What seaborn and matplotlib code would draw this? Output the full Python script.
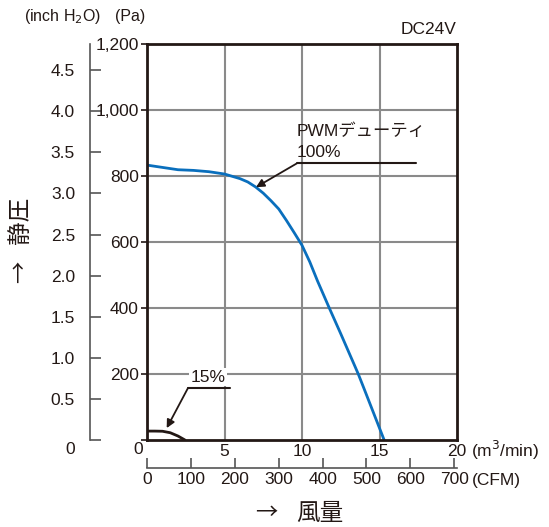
import matplotlib
matplotlib.use("Agg")
import matplotlib.pyplot as plt
import matplotlib.transforms as mtransforms
import seaborn as sns
import pandas as pd

# ---- data ----
flow_100 = [0, 1, 2, 3, 4, 5, 6, 6.5, 7, 7.5, 8, 8.5, 9, 9.5, 10, 10.5, 11, 11.76,
            12.5, 13, 13.4, 13.63, 14, 14.5, 15, 15.3]
pa_100 = [833, 826, 819, 817, 813, 806, 792, 782, 767, 748, 725, 700, 665, 628, 590,
          540, 482, 400, 322, 268, 225, 200, 156, 96, 36, 0]
flow_15 = [0, 0.5, 1.0, 1.5, 2.0, 2.45]
pa_15 = [27, 27, 26.5, 22, 12, 0]

pa_ticks = [0, 200, 400, 600, 800, 1000, 1200]
pa_labels = ["", "200", "400", "600", "800", "1,000", "1,200"]
inch_ticks = [0, 0.5, 1.0, 1.5, 2.0, 2.5, 3.0, 3.5, 4.0, 4.5]
flow_ticks = [0, 5, 10, 15, 20]
cfm_ticks = [0, 100, 200, 300, 400, 500, 600, 700]

PA_PER_INCH = 249.089
M3MIN_PER_CFM = 0.0283168

BLUE = "#0a6fbd"
INK = "#231815"
GRID = "#8a8a8a"

sns.set_theme(style="white")
plt.rcParams["font.family"] = ["Liberation Sans", "Noto Sans CJK JP", "DejaVu Sans"]
FS = 12.5
CJK = ["Noto Sans CJK JP", "DejaVu Sans"]

fig = plt.figure(figsize=(5.49, 5.27), dpi=100)
ax = fig.add_axes([147 / 549, 87 / 527, 310 / 549, 396 / 527])

df100 = pd.DataFrame({"flow": flow_100, "pa": pa_100})
df15 = pd.DataFrame({"flow": flow_15, "pa": pa_15})
sns.lineplot(data=df100, x="flow", y="pa", ax=ax, color=BLUE, linewidth=2, sort=False)
sns.lineplot(data=df15, x="flow", y="pa", ax=ax, color=INK, linewidth=2, sort=False)

ax.set_xlim(0, 20)
ax.set_ylim(0, 1200)
ax.set_xlabel("")
ax.set_ylabel("")

# grid
for v in flow_ticks[1:-1]:
    ax.axvline(v, color=GRID, lw=1.5, zorder=0)
for v in pa_ticks[1:-1]:
    ax.axhline(v, color=GRID, lw=1.5, zorder=0)

for s in ax.spines.values():
    s.set_color(INK)
    s.set_linewidth(2)

ax.set_yticks(pa_ticks)
ax.set_yticklabels(pa_labels)
ax.tick_params(axis="y", direction="out", length=4, width=1.2, color=INK,
               labelsize=FS, labelcolor=INK, pad=2, left=True)
ax.set_xticks(flow_ticks)
ax.set_xticklabels([""] + [str(v) for v in flow_ticks[1:]])
ax.tick_params(axis="x", length=0, labelsize=FS, labelcolor=INK, pad=3)

# "0" shared label at origin
off = mtransforms.offset_copy(ax.transData, fig=fig, x=-9, y=-10, units="dots")
ax.text(0, 0, "0", transform=off, ha="center", va="center", fontsize=FS, color=INK)

# inch H2O axis
sec_y = ax.secondary_yaxis(-0.185, functions=(lambda p: p / PA_PER_INCH,
                                               lambda i: i * PA_PER_INCH))
sec_y.set_yticks(inch_ticks)
sec_y.set_yticklabels([""] + [f"{v:.1f}" for v in inch_ticks[1:]])
sec_y.tick_params(direction="in", length=8, width=1.2, color="#555555",
                  labelsize=FS, labelcolor=INK, pad=10.5)
sec_y.spines["left"].set_color("#555555")
sec_y.spines["left"].set_linewidth(1.2)
off2 = mtransforms.offset_copy(ax.transAxes, fig=fig, x=0, y=-10, units="dots")
ax.text(-0.247, 0, "0", transform=off2, ha="center", va="center", fontsize=FS, color=INK)

# CFM axis
sec_x = ax.secondary_xaxis(-0.0707, functions=(lambda f: f / M3MIN_PER_CFM,
                                                lambda c: c * M3MIN_PER_CFM))
sec_x.set_xticks(cfm_ticks)
sec_x.set_xticklabels([str(v) for v in cfm_ticks])
sec_x.tick_params(direction="in", length=7, width=1.2, color="#555555",
                  labelsize=FS, labelcolor=INK, pad=3)
sec_x.spines["bottom"].set_color("#555555")
sec_x.spines["bottom"].set_linewidth(1.2)

# unit texts
fig.text(24 / 549, 1 - 17 / 527, "(inch H$_2$O)", ha="left", va="center", fontsize=11.5, color=INK)
fig.text(115 / 549, 1 - 17 / 527, "(Pa)", ha="left", va="center", fontsize=11.5, color=INK)
fig.text(471 / 549, 1 - 450 / 527, "(m$^3$/min)", ha="left", va="center", fontsize=FS, color=INK)
fig.text(472 / 549, 1 - 481 / 527, "(CFM)", ha="left", va="center", fontsize=FS, color=INK)
fig.text(456 / 549, 1 - 30 / 527, "DC24V", ha="right", va="center", fontsize=FS, color=INK)

# axis titles
fig.text(266 / 549, 1 - 513 / 527, "→", ha="center", va="center", fontsize=16,
         color=INK, family=CJK)
fig.text(320 / 549, 1 - 513 / 527, "風量", ha="center", va="center", fontsize=17,
         color=INK, family=CJK)
fig.text(20 / 549, 1 - 272 / 527, "→", ha="center", va="center", fontsize=16,
         color=INK, rotation=90, family=CJK)
fig.text(20 / 549, 1 - 220 / 527, "静圧", ha="center", va="center", fontsize=17,
         color=INK, rotation=90, family=CJK)

# annotations
arrow_kw = dict(arrowstyle="-|>", color=INK, lw=1.3, mutation_scale=12,
                shrinkA=0, shrinkB=0)
lab100_start, lab100_end, lab100_y = 9.66, 17.35, 838
tip100 = (7.03, 766)
ax.plot([lab100_start, lab100_end], [lab100_y, lab100_y], color=INK, lw=1.5)
ax.annotate("", xy=tip100, xytext=(lab100_start, lab100_y), arrowprops=arrow_kw)
ax.text(lab100_start, 935, "PWMデューティ", ha="left", va="center", fontsize=FS, color=INK)
ax.text(lab100_start, 870, "100%", ha="left", va="center", fontsize=FS, color=INK)

lab15_start, lab15_end, lab15_y = 2.65, 5.35, 158
tip15 = (1.27, 36)
ax.plot([lab15_start, lab15_end], [lab15_y, lab15_y], color=INK, lw=1.5)
ax.annotate("", xy=tip15, xytext=(lab15_start, lab15_y), arrowprops=arrow_kw)
ax.text(3.95, 190, "15%", ha="center", va="center", fontsize=FS, color=INK,
        bbox=dict(facecolor="white", edgecolor="none", pad=1))

fig.savefig("out.png", dpi=100)
